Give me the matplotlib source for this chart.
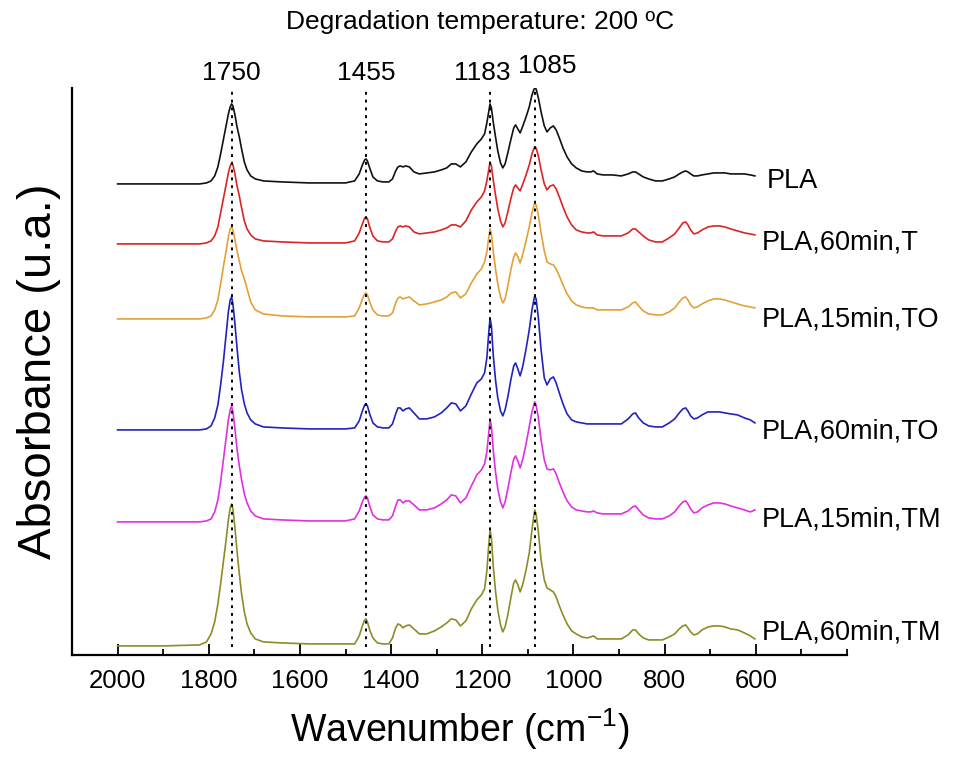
import numpy as np
import matplotlib.pyplot as plt
from matplotlib.ticker import MultipleLocator
import matplotlib.transforms as mtransforms

plt.rcParams['font.family'] = ['Liberation Sans', 'DejaVu Sans']

# wavenumber grid (cm-1)
wavenumber = [
    2000, 1900, 1820, 1805, 1795, 1787, 1780, 1774, 1768, 1762, 1757, 1753, 1750,
    1747, 1743, 1738, 1733, 1728, 1722, 1716, 1708, 1698, 1680, 1640, 1580, 1500,
    1480, 1470, 1463, 1458, 1455, 1452, 1447, 1440, 1430, 1418, 1405,
    1397, 1390, 1385, 1380, 1374, 1368, 1360, 1350, 1338, 1322, 1305, 1290, 1278,
    1268, 1258, 1248, 1236, 1224, 1212, 1202, 1195,
    1190, 1186, 1183, 1180, 1176, 1171, 1166, 1160, 1155, 1150, 1144, 1137, 1131,
    1127, 1122, 1117, 1111, 1104, 1097, 1091, 1087, 1085, 1082, 1077, 1071, 1064,
    1058, 1051, 1044, 1038, 1031, 1023, 1014, 1004, 994,
    982, 970, 962, 956, 948, 935, 915, 895, 880, 870, 864, 857, 847, 835, 820,
    805, 790, 778, 768, 760, 754, 749, 743, 736, 728, 718, 705, 692, 680, 668,
    655, 640, 625, 612, 602]

# absorbance (arb. units) of each spectrum
pla = [
    0, 0, 0, 1, 3, 8, 17, 30, 44, 58, 70, 77, 80, 78, 70, 57, 47, 35, 22, 14, 8, 5, 3, 2, 1, 1,
    3, 10, 19, 24, 25, 23, 16, 7, 3, 2, 2,
    5, 13, 17, 18, 17, 18, 17, 12, 10, 11, 12, 14, 16, 20, 20, 17, 22, 32, 40, 45, 50,
    61, 72, 80, 76, 62, 47, 33, 21, 16, 20, 31, 45, 56, 59, 55, 51, 58, 67, 77, 89,
    94, 96, 95, 86, 72, 58, 52, 56, 58, 54, 46, 36, 27, 20, 16,
    13, 12, 12, 13, 10, 9, 9, 8, 10, 12, 12, 10, 7, 5, 3, 3, 5, 7, 10, 12,
    13, 12, 10, 8, 8, 9, 10, 11, 11, 11, 10, 10, 10, 9, 8]
pla_60_t = [
    0, 0, 0, 1, 3, 8, 17, 31, 45, 59, 71, 78, 81, 79, 71, 58, 48, 36, 23, 15, 9, 5, 3, 2, 1, 1,
    3, 11, 20, 26, 27, 25, 17, 8, 3, 2, 2,
    5, 13, 17, 18, 17, 18, 17, 12, 10, 11, 12, 14, 16, 19, 19, 17, 23, 34, 42, 47, 53,
    63, 74, 82, 78, 64, 49, 35, 23, 17, 21, 32, 46, 56, 59, 56, 53, 60, 69, 79, 90,
    95, 97, 96, 88, 74, 60, 54, 58, 59, 55, 47, 37, 27, 19, 14,
    12, 11, 11, 12, 9, 8, 8, 8, 11, 15, 15, 12, 8, 4, 2, 2, 6, 10, 16, 21,
    22, 19, 14, 10, 11, 14, 17, 18, 18, 17, 15, 13, 11, 10, 9]
pla_15_to = [
    0, 0, 0, 1, 3, 9, 19, 35, 52, 68, 82, 90, 92, 89, 80, 68, 58, 48, 40, 30, 17, 9, 5, 3, 2, 2,
    3, 11, 20, 25, 26, 24, 17, 9, 4, 3, 3,
    6, 16, 21, 22, 20, 21, 22, 18, 14, 15, 17, 19, 22, 26, 27, 21, 25, 36, 45, 50, 57,
    67, 81, 90, 85, 68, 50, 35, 22, 16, 20, 33, 50, 62, 66, 62, 56, 65, 78, 92, 106,
    113, 116, 114, 104, 86, 68, 57, 55, 54, 50, 43, 34, 25, 18, 14,
    12, 11, 11, 11, 9, 9, 9, 9, 12, 16, 17, 13, 8, 5, 4, 4, 7, 11, 17, 21,
    22, 19, 14, 11, 12, 15, 18, 20, 20, 19, 17, 15, 13, 12, 11]
pla_60_to = [
    0, 0, 0, 1, 4, 12, 25, 45, 68, 95, 118, 130, 133, 126, 108, 82, 58, 40, 26, 17, 10, 6, 3, 2, 1, 1,
    2, 9, 19, 25, 26, 24, 16, 7, 3, 2, 2,
    6, 16, 22, 22, 19, 21, 22, 17, 11, 11, 13, 17, 22, 27, 26, 19, 24, 36, 47, 51, 57,
    72, 96, 112, 104, 75, 50, 32, 19, 14, 20, 33, 51, 64, 67, 61, 54, 64, 81, 100, 120,
    130, 134, 131, 112, 80, 52, 45, 51, 53, 47, 37, 26, 16, 10, 8,
    7, 6, 6, 6, 6, 6, 6, 6, 11, 16, 17, 12, 7, 4, 3, 3, 7, 11, 17, 21,
    22, 19, 14, 11, 12, 15, 18, 18, 18, 17, 16, 15, 12, 10, 7]
pla_15_tm = [
    0, 0, 0, 1, 3, 10, 22, 40, 62, 84, 102, 112, 116, 110, 95, 73, 56, 42, 28, 19, 11, 6, 3, 2, 1, 1,
    3, 11, 20, 25, 26, 24, 16, 7, 3, 2, 2,
    6, 16, 22, 22, 19, 21, 21, 17, 12, 12, 14, 18, 22, 27, 26, 19, 24, 36, 47, 52, 58,
    70, 88, 102, 96, 72, 50, 33, 20, 14, 20, 33, 50, 63, 66, 61, 54, 63, 78, 95, 110,
    117, 120, 117, 104, 82, 62, 53, 52, 53, 48, 39, 30, 21, 15, 12,
    11, 10, 10, 11, 9, 8, 8, 8, 11, 15, 16, 12, 7, 4, 3, 3, 6, 10, 16, 20,
    21, 18, 13, 9, 10, 14, 17, 19, 19, 18, 16, 14, 12, 10, 12]
pla_60_tm = [
    0, 0, 1, 4, 12, 24, 42, 62, 84, 106, 126, 138, 142, 137, 120, 95, 72, 52, 34, 22, 13, 7, 4, 3, 2, 2,
    2, 10, 20, 26, 27, 24, 16, 8, 3, 2, 2,
    8, 18, 22, 21, 18, 20, 21, 17, 12, 12, 15, 19, 23, 27, 26, 20, 25, 37, 46, 51, 57,
    75, 100, 116, 108, 80, 55, 36, 21, 14, 19, 31, 49, 63, 66, 61, 54, 62, 76, 93, 116,
    130, 136, 132, 114, 86, 66, 58, 56, 54, 49, 40, 31, 22, 15, 12,
    9, 8, 9, 10, 7, 7, 7, 7, 11, 16, 16, 12, 8, 6, 6, 6, 9, 12, 17, 20,
    21, 18, 14, 11, 12, 16, 19, 20, 20, 19, 17, 16, 13, 10, 7]

spectra = [pla, pla_60_t, pla_15_to, pla_60_to, pla_15_tm, pla_60_tm]
names = ['PLA', 'PLA,60min,T', 'PLA,15min,TO', 'PLA,60min,TO',
         'PLA,15min,TM', 'PLA,60min,TM']
peaks = [1750, 1455, 1183, 1085]

# vertical stacking and look
offsets = [471, 411, 336, 225, 133, 9]
label_y = [474, 412, 335, 223, 135, 22]
colors = ['#111111', '#dd2424', '#e3a037', '#2222c0', '#e030e0', '#8c8c28']

fig = plt.figure(figsize=(9.55, 7.58), dpi=100)
ax = fig.add_axes([0.0754, 0.136, 0.8115, 0.748])

for y, off, c in zip(spectra, offsets, colors):
    ax.plot(wavenumber, np.array(y) + off, color=c, lw=1.2)

for name, ly in zip(names, label_y):
    x0 = 575 if name == 'PLA' else 586
    ax.text(x0, ly, name, fontsize=19.5, va='center', ha='left')

for p in peaks:
    ax.plot([p, p], [8, 567], color='black', ls=(0, (1.5, 2.5)), lw=1.4)

# peak labels sit above the axes
trans = mtransforms.blended_transform_factory(ax.transData, ax.transAxes)
peak_label_x = [1750, 1455, 1201, 1058]
peak_label_y = [1.026, 1.026, 1.026, 1.038]
for p, lx, ly in zip(peaks, peak_label_x, peak_label_y):
    ax.text(lx, ly, str(p), transform=trans, fontsize=19,
            ha='center', va='center')

ax.text(1205, 1.116, 'Degradation temperature: 200 ºC', transform=trans,
        fontsize=19, ha='center', va='center')

ax.set_xlim(2100, 400)
ax.set_ylim(0, 567)
ax.set_xticks([2000, 1800, 1600, 1400, 1200, 1000, 800, 600])
ax.xaxis.set_minor_locator(MultipleLocator(100))
ax.set_yticks([])
ax.tick_params(axis='x', which='major', direction='in', length=8, width=1.3,
               labelsize=18.5, pad=10)
ax.tick_params(axis='x', which='minor', direction='in', length=4, width=1.3)

for side in ['top', 'right']:
    ax.spines[side].set_visible(False)
for side in ['left', 'bottom']:
    ax.spines[side].set_linewidth(1.6)

ax.set_xlabel('Wavenumber (cm$^{\\mathregular{-1}}$)', fontsize=27, labelpad=10)
ax.set_ylabel('Absorbance (u.a.)', fontsize=34, labelpad=8)

fig.savefig('out.png', dpi=100)
